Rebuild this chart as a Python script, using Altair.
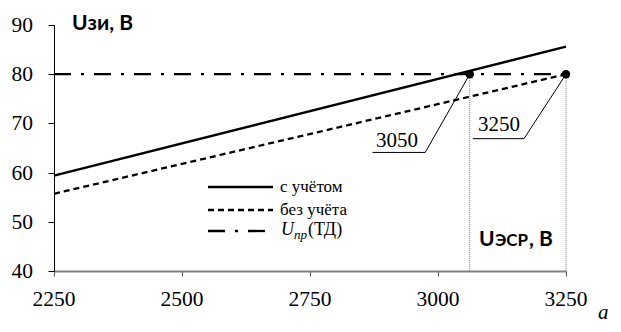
import altair as alt
import pandas as pd

# ---- data ----
x_ticks = [2250, 2500, 2750, 3000, 3250]
y_ticks = [40, 50, 60, 70, 80, 90]

x_ends = [2250, 3250]
with_acc = [59.4, 85.6]      # с учётом
without_acc = [55.7, 80.0]   # без учёта
limit_td = [80, 80]          # U_пр(ТД)

cross_x = [3062, 3250]
cross_y = [80, 80]
cross_labels = ["3050", "3250"]

# annotation callouts (data units)
lab_x = [2920, 3119]
lab_y = [65.2, 68.4]
shelf_x1 = [2872, 3068]
shelf_x2 = [2975, 3168]
shelf_y = [64.1, 66.9]

SERIF = "Liberation Serif"
SANS = "Lato"

xs = alt.Scale(domain=[2250, 3250], nice=False, zero=False)
ys = alt.Scale(domain=[40, 90], nice=False, zero=False)

def line_df(vals):
    return pd.DataFrame({"x": x_ends, "y": vals})

xaxis = alt.Axis(values=x_ticks, title=None, grid=False, labels=False,
                 domainColor="#808080", domainWidth=2, tickColor="#555555", tickSize=5)
yaxis = alt.Axis(values=y_ticks, title=None, grid=False, labels=False,
                 domainColor="black", domainWidth=1, tickColor="black", tickSize=6)
base_x = alt.X("x:Q", scale=xs, axis=xaxis)
base_y = alt.Y("y:Q", scale=ys, axis=yaxis)

limit_line = alt.Chart(line_df(limit_td)).mark_line(
    color="black", strokeWidth=2.3, strokeDash=[17, 10, 3, 10]
).encode(x=base_x, y=base_y)

solid = alt.Chart(line_df(with_acc)).mark_line(color="black", strokeWidth=2.4).encode(
    x=base_x, y=base_y)
dashed = alt.Chart(line_df(without_acc)).mark_line(
    color="black", strokeWidth=2.3, strokeDash=[6, 4]).encode(x=base_x, y=base_y)

cross_df = pd.DataFrame({
    "x": cross_x, "y": cross_y, "lab": cross_labels,
    "lx": lab_x, "ly": lab_y, "sx1": shelf_x1, "sx2": shelf_x2, "sy": shelf_y,
    "y0": [40, 40],
})

drops = alt.Chart(cross_df).mark_rule(color="#777777", strokeWidth=1, strokeDash=[1, 1]).encode(
    x=base_x, y=base_y, y2="y0:Q")
leaders = alt.Chart(cross_df).mark_rule(color="black", strokeWidth=1).encode(
    x=base_x, y=base_y, x2="sx2:Q", y2="sy:Q")
shelves = alt.Chart(cross_df).mark_rule(color="black", strokeWidth=1).encode(
    x=alt.X("sx1:Q", scale=xs, axis=xaxis), x2="sx2:Q", y=alt.Y("sy:Q", scale=ys, axis=yaxis))
points = alt.Chart(cross_df).mark_circle(color="black", opacity=1, size=70).encode(
    x=base_x, y=base_y)
labels = alt.Chart(cross_df).mark_text(font=SERIF, fontSize=21, color="black",
                                       align="center", baseline="alphabetic").encode(
    x=alt.X("lx:Q", scale=xs, axis=xaxis), y=alt.Y("ly:Q", scale=ys, axis=yaxis), text="lab:N")

# tick labels drawn as text through the same scales
xt_df = pd.DataFrame({"x": x_ticks, "y": [y_ticks[0]] * len(x_ticks),
                      "t": [str(v) for v in x_ticks]})
yt_df = pd.DataFrame({"x": [x_ticks[0]] * len(y_ticks), "y": y_ticks,
                      "t": [str(v) for v in y_ticks]})
xt = alt.Chart(xt_df).mark_text(font=SERIF, fontSize=21.5, color="black", align="center",
                                baseline="alphabetic", dy=35).encode(
    x=base_x, y=base_y, text="t:N")
yt = alt.Chart(yt_df).mark_text(font=SERIF, fontSize=21.5, color="black", align="right",
                                baseline="middle", dx=-21, dy=1).encode(
    x=base_x, y=base_y, text="t:N")

one = alt.Data(values=[{}])

def txt(text, x, y, **kw):
    return alt.Chart(one).mark_text(text=text, color="black", **kw).encode(
        x=alt.value(x), y=alt.value(y))

def seg(x1, x2, y, **kw):
    return alt.Chart(one).mark_rule(color="black", **kw).encode(
        x=alt.value(x1), x2=alt.value(x2), y=alt.value(y))

# axis titles
t_y = txt("Uзи, В", 18, 5, font=SANS, fontWeight="bold", fontSize=21,
          align="left", baseline="alphabetic")
t_x1 = txt("U", 425, 221, font=SANS, fontWeight="bold", fontSize=21,
           align="left", baseline="alphabetic")
t_x2 = txt("ЭСР", 441, 221, font=SANS, fontWeight="bold", fontSize=17,
           align="left", baseline="alphabetic")
t_x3 = txt(", В", 475, 221, font=SANS, fontWeight="bold", fontSize=21,
           align="left", baseline="alphabetic")
t_a = txt("a", 544, 294, font=SERIF, fontStyle="italic", fontSize=21,
          align="left", baseline="alphabetic")

# legend
lg_x1, lg_x2 = 154, 219
lg_rows = [162, 185, 206]
leg = [
    seg(lg_x1, lg_x2, lg_rows[0], strokeWidth=2.4),
    seg(lg_x1, lg_x2, lg_rows[1], strokeWidth=2.3, strokeDash=[6, 4]),
    seg(lg_x1, lg_x2, lg_rows[2], strokeWidth=2.3, strokeDash=[17, 10, 3, 10]),
    txt("с учётом", 226, lg_rows[0] + 5, font=SERIF, fontSize=17, align="left",
        baseline="alphabetic"),
    txt("без учёта", 226, lg_rows[1] + 5, font=SERIF, fontSize=17, align="left",
        baseline="alphabetic"),
    txt("U", 227, lg_rows[2] + 4, font=SERIF, fontStyle="italic", fontSize=18,
        align="left", baseline="alphabetic"),
    txt("пр", 240, lg_rows[2] + 8, font=SERIF, fontStyle="italic", fontSize=13,
        align="left", baseline="alphabetic"),
    txt("(ТД)", 254, lg_rows[2] + 4, font=SERIF, fontSize=18, align="left",
        baseline="alphabetic"),
]

chart = alt.layer(
    limit_line, drops, solid, dashed, leaders, shelves, points, labels, xt, yt,
    t_y, t_x1, t_x2, t_x3, t_a, *leg
).properties(
    width=512, height=246,
    autosize=alt.AutoSizeParams(type="none"),
    padding={"left": 46, "top": 17, "right": 47, "bottom": 53},
).configure(
    background="white",
    view={"stroke": None},
)

chart.save("out.html", embed_options={"renderer": "svg", "actions": False})
